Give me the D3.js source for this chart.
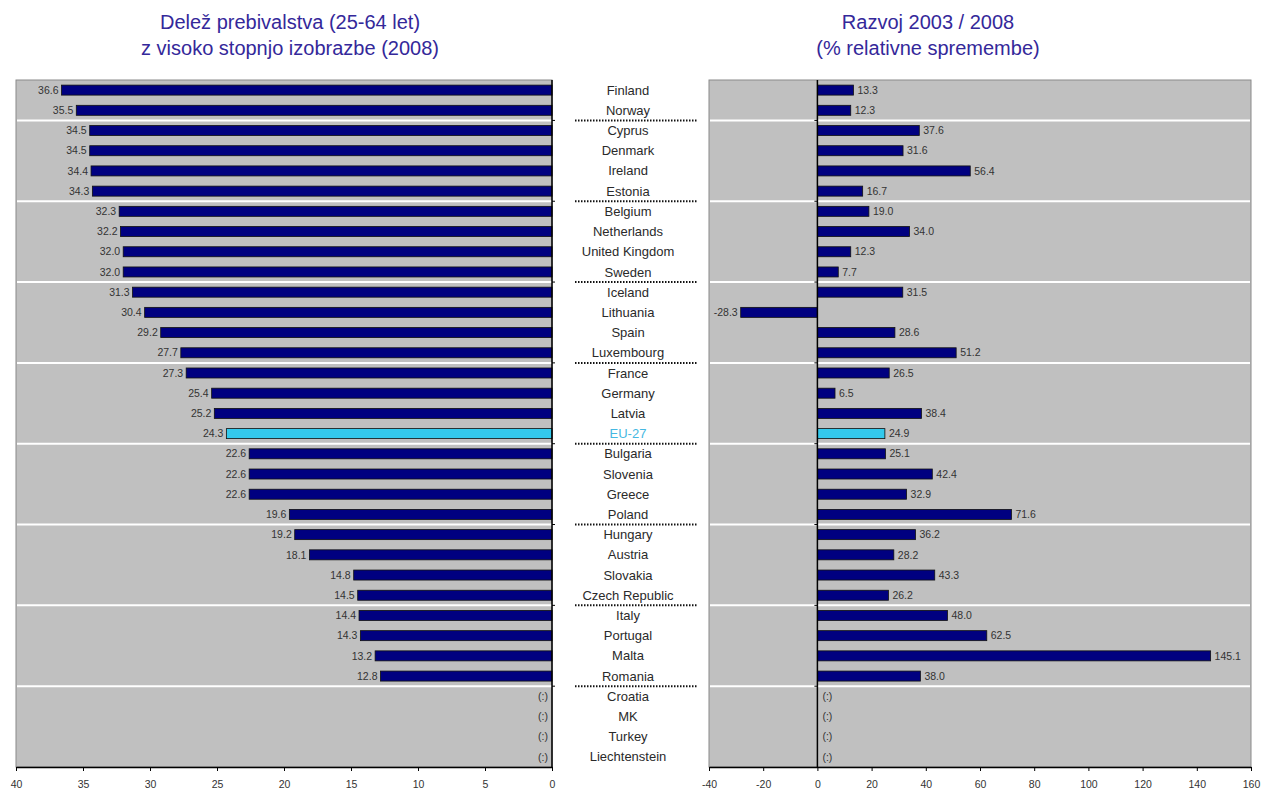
<!DOCTYPE html>
<html lang="sl">
<head>
<meta charset="utf-8" />
<title>Visoka izobrazba 2008</title>
<style>
  body { margin: 0; background: #fff; }
  svg text { font-family: "Liberation Sans", Arial, sans-serif; }
</style>
</head>
<body>
<script src="https://d3js.org/d3.v7.min.js"></script>
<div id="chart"></div>
<script>
    // countries, top to bottom
    const countries = ["Finland", "Norway", "Cyprus", "Denmark", "Ireland", "Estonia", "Belgium",
        "Netherlands", "United Kingdom", "Sweden", "Iceland", "Lithuania", "Spain", "Luxembourg",
        "France", "Germany", "Latvia", "EU-27", "Bulgaria", "Slovenia", "Greece", "Poland",
        "Hungary", "Austria", "Slovakia", "Czech Republic", "Italy", "Portugal", "Malta", "Romania",
        "Croatia", "MK", "Turkey", "Liechtenstein"];

    // share of population 25-64 with tertiary education, 2008 (%)
    const share2008 = [36.6, 35.5, 34.5, 34.5, 34.4, 34.3, 32.3, 32.2, 32.0, 32.0, 31.3, 30.4,
        29.2, 27.7, 27.3, 25.4, 25.2, 24.3, 22.6, 22.6, 22.6, 19.6, 19.2, 18.1, 14.8, 14.5,
        14.4, 14.3, 13.2, 12.8, null, null, null, null];

    // relative change 2003 / 2008 (%)
    const change0308 = [13.3, 12.3, 37.6, 31.6, 56.4, 16.7, 19.0, 34.0, 12.3, 7.7, 31.5, -28.3,
        28.6, 51.2, 26.5, 6.5, 38.4, 24.9, 25.1, 42.4, 32.9, 71.6, 36.2, 28.2, 43.3, 26.2,
        48.0, 62.5, 145.1, 38.0, null, null, null, null];

    // a separator follows each of these rows
    const groupEnds = ["Norway", "Estonia", "Sweden", "Luxembourg", "EU-27", "Poland",
        "Czech Republic", "Romania"];

    const leftTicks = [40, 35, 30, 25, 20, 15, 10, 5, 0];
    const rightTicks = [-40, -20, 0, 20, 40, 60, 80, 100, 120, 140, 160];

    const W = 1261, H = 789;
    const plotTop = 80, plotBottom = 767;
    const navy = "#000080", cyan = "#33c9ec", titleCol = "#34289a";

    const svg = d3.select("#chart").append("svg")
        .attr("width", W).attr("height", H);

    const rows = countries.map((c, i) => ({c, a: share2008[i], b: change0308[i]}));

    const y = d3.scaleBand().domain(countries).range([plotTop, plotBottom]).paddingInner(0);
    const xl = d3.scaleLinear().domain([40, 0]).range([16, 552]);
    const xr = d3.scaleLinear().domain([-40, 160]).range([709, 1251]);

    const barH = 10;
    const yc = d => y(d) + y.bandwidth() / 2;
    const boundaryY = d => y(d) + y.bandwidth();

    // panel backgrounds
    [[xl, 40, 0], [xr, -40, 160]].forEach(([x, a, b]) => {
        svg.append("rect")
            .attr("x", x(a)).attr("y", plotTop)
            .attr("width", x(b) - x(a)).attr("height", plotBottom - plotTop)
            .attr("fill", "#c0c0c0").attr("stroke", "#8a8a8a").attr("stroke-width", 1);
    });

    // white group separators inside the panels, dotted ones in the middle
    groupEnds.forEach(g => {
        const yy = boundaryY(g);
        svg.append("line").attr("x1", xl(40) + 1).attr("x2", xl(0)).attr("y1", yy).attr("y2", yy)
            .attr("stroke", "#fff").attr("stroke-width", 2);
        svg.append("line").attr("x1", xr(-40) + 1).attr("x2", xr(160) - 1).attr("y1", yy).attr("y2", yy)
            .attr("stroke", "#fff").attr("stroke-width", 2);
        svg.append("line").attr("x1", 575).attr("x2", 697).attr("y1", yy).attr("y2", yy)
            .attr("stroke", "#111").attr("stroke-width", 2).attr("stroke-dasharray", "1.5,1.5");
        // small ticks on the zero axes
        svg.append("line").attr("x1", xl(0)).attr("x2", xl(0) + 3).attr("y1", yy).attr("y2", yy)
            .attr("stroke", "#000");
        svg.append("line").attr("x1", xr(0) - 3).attr("x2", xr(0)).attr("y1", yy).attr("y2", yy)
            .attr("stroke", "#000");
    });

    // left bars
    svg.selectAll(".barL").data(rows.filter(d => d.a != null)).join("rect")
        .attr("class", "barL")
        .attr("x", d => xl(d.a)).attr("y", d => yc(d.c) - barH / 2)
        .attr("width", d => xl(0) - xl(d.a)).attr("height", barH)
        .attr("fill", d => d.c === "EU-27" ? cyan : navy)
        .attr("stroke", "#111").attr("stroke-width", 0.8);

    svg.selectAll(".lblL").data(rows).join("text")
        .attr("class", "lblL")
        .attr("x", d => d.a != null ? xl(d.a) - 3 : xl(0) - 4)
        .attr("y", d => yc(d.c)).attr("dy", "0.35em")
        .attr("text-anchor", "end")
        .attr("font-size", 10.5).attr("fill", "#333")
        .text(d => d.a != null ? d.a.toFixed(1) : "(:)");

    // right bars
    svg.selectAll(".barR").data(rows.filter(d => d.b != null)).join("rect")
        .attr("class", "barR")
        .attr("x", d => xr(Math.min(0, d.b))).attr("y", d => yc(d.c) - barH / 2)
        .attr("width", d => Math.abs(xr(d.b) - xr(0))).attr("height", barH)
        .attr("fill", d => d.c === "EU-27" ? cyan : navy)
        .attr("stroke", "#111").attr("stroke-width", 0.8);

    svg.selectAll(".lblR").data(rows).join("text")
        .attr("class", "lblR")
        .attr("x", d => d.b == null ? xr(0) + 5 : d.b < 0 ? xr(d.b) - 3 : xr(d.b) + 4)
        .attr("y", d => yc(d.c)).attr("dy", "0.35em")
        .attr("text-anchor", d => d.b != null && d.b < 0 ? "end" : "start")
        .attr("font-size", 10.5).attr("fill", "#333")
        .text(d => d.b != null ? d.b.toFixed(1) : "(:)");

    // zero axes
    svg.append("line").attr("x1", xl(0)).attr("x2", xl(0)).attr("y1", plotTop).attr("y2", plotBottom)
        .attr("stroke", "#000").attr("stroke-width", 1.5);
    svg.append("line").attr("x1", xr(0)).attr("x2", xr(0)).attr("y1", plotTop).attr("y2", plotBottom)
        .attr("stroke", "#000").attr("stroke-width", 1.5);

    // bottom axes (plain hyphen for negatives, as in the original)
    const fmt = d => String(d);
    const axL = svg.append("g").attr("transform", `translate(0,${plotBottom})`)
        .call(d3.axisBottom(xl).tickValues(leftTicks).tickFormat(fmt)
            .tickSize(4).tickSizeOuter(0).tickPadding(10));
    const axR = svg.append("g").attr("transform", `translate(0,${plotBottom})`)
        .call(d3.axisBottom(xr).tickValues(rightTicks).tickFormat(fmt)
            .tickSize(4).tickSizeOuter(0).tickPadding(10));
    [axL, axR].forEach(ax => {
        ax.select(".domain").attr("stroke", "#000").attr("stroke-width", 1.3);
        ax.selectAll(".tick line").attr("stroke", "#000");
        ax.selectAll("text").attr("font-size", 10.5).attr("fill", "#333")
            .attr("font-family", "Liberation Sans, Arial, sans-serif");
    });

    // country names in the middle
    svg.selectAll(".cname").data(countries).join("text")
        .attr("class", "cname")
        .attr("x", 628).attr("y", d => yc(d)).attr("dy", "0.35em")
        .attr("text-anchor", "middle")
        .attr("font-size", 13)
        .attr("fill", d => d === "EU-27" ? "#45b8e2" : "#2a2a2a")
        .text(d => d);

    // titles
    const titles = [
        [290, ["Delež prebivalstva (25-64 let)", "z visoko stopnjo izobrazbe (2008)"]],
        [928, ["Razvoj 2003 / 2008", "(% relativne spremembe)"]]
    ];
    titles.forEach(([cx, lines]) => {
        lines.forEach((t, i) => {
            svg.append("text")
                .attr("x", cx).attr("y", 29 + i * 26)
                .attr("text-anchor", "middle")
                .attr("font-size", 20).attr("fill", titleCol)
                .style("font-family", "'Liberation Sans Narrow', 'Liberation Sans', Arial, sans-serif")
                .text(t);
        });
    });
</script>
</body>
</html>
